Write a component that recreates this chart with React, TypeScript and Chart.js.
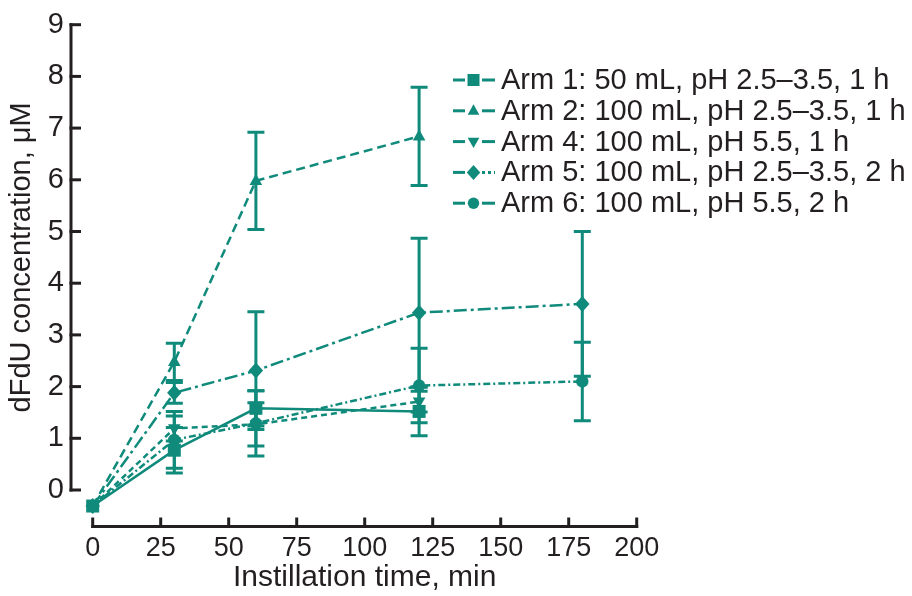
import React, { useEffect, useRef } from 'react';
import { Chart, registerables } from 'chart.js';

Chart.register(...registerables);

// ---- data ----
const timesShort = [0, 30, 60, 120];
const timesLong = [0, 30, 60, 120, 180];

const arm1 = [-0.31, 0.77, 1.58, 1.52];
const arm1Err = [0, 0.44, 0.34, 0.47];
const arm2 = [-0.31, 2.48, 5.98, 6.84];
const arm2Err = [0, 0.36, 0.94, 0.95];
const arm4 = [-0.31, 1.19, 1.27, 1.71];
const arm4Err = [0, 0.24, 0.42, 0.2];
const arm5 = [-0.31, 1.88, 2.31, 3.43, 3.6];
const arm5Err = [0, 0.2, 1.14, 1.44, 1.4];
const arm6 = [-0.31, 0.97, 1.29, 2.02, 2.1];
const arm6Err = [0, 0.55, 0.63, 0.72, 0.76];

const seriesLabels = [
  'Arm 1: 50 mL, pH 2.5\u20133.5, 1 h',
  'Arm 2: 100 mL, pH 2.5\u20133.5, 1 h',
  'Arm 4: 100 mL, pH 5.5, 1 h',
  'Arm 5: 100 mL, pH 2.5\u20133.5, 2 h',
  'Arm 6: 100 mL, pH 5.5, 2 h',
];

const xTickValues = [0, 25, 50, 75, 100, 125, 150, 175, 200];
const yTickValues = [0, 1, 2, 3, 4, 5, 6, 7, 8, 9];

const xTitle = 'Instillation time, min';
const yTitle = 'dFdU concentration, \u03bcM';

// ---- styles ----
const TEAL = '#0f8a7b';
const INK = '#231f20';
const FONT = "'Liberation Sans', Arial, sans-serif";

type Series = {
  label: string;
  times: number[];
  values: number[];
  errs: number[];
  marker: string;
  radius: number;
  dash: number[];
};

const series: Series[] = [
  { label: seriesLabels[0], times: timesShort, values: arm1, errs: arm1Err, marker: 'square', radius: 6.5, dash: [] },
  { label: seriesLabels[1], times: timesShort, values: arm2, errs: arm2Err, marker: 'triangle', radius: 7, dash: [9, 5] },
  { label: seriesLabels[2], times: timesShort, values: arm4, errs: arm4Err, marker: 'triangleDown', radius: 7, dash: [6, 4] },
  { label: seriesLabels[3], times: timesLong, values: arm5, errs: arm5Err, marker: 'diamond', radius: 8, dash: [13, 4, 3, 4] },
  { label: seriesLabels[4], times: timesLong, values: arm6, errs: arm6Err, marker: 'circle', radius: 6.2, dash: [7, 3, 2, 3] },
];

function drawMarker(ctx: CanvasRenderingContext2D, kind: string, x: number, y: number, r: number) {
  ctx.beginPath();
  if (kind === 'square') {
    ctx.rect(x - r, y - r, 2 * r, 2 * r);
  } else if (kind === 'triangle') {
    ctx.moveTo(x, y - r);
    ctx.lineTo(x + r * 0.9, y + r * 0.6);
    ctx.lineTo(x - r * 0.9, y + r * 0.6);
    ctx.closePath();
  } else if (kind === 'triangleDown') {
    ctx.moveTo(x, y + r);
    ctx.lineTo(x + r * 0.9, y - r * 0.6);
    ctx.lineTo(x - r * 0.9, y - r * 0.6);
    ctx.closePath();
  } else if (kind === 'diamond') {
    ctx.moveTo(x, y - r);
    ctx.lineTo(x + r * 0.9, y);
    ctx.lineTo(x, y + r);
    ctx.lineTo(x - r * 0.9, y);
    ctx.closePath();
  } else {
    ctx.arc(x, y, r, 0, Math.PI * 2);
  }
  ctx.fillStyle = TEAL;
  ctx.fill();
}

const Y_AXIS_X = 71;
const X_AXIS_Y = 526.5;

const axesPlugin = {
  id: 'offsetAxes',
  beforeDatasetsDraw(chart: any) {
    const { ctx } = chart;
    const xs = chart.scales.x;
    const ys = chart.scales.y;
    ctx.save();
    ctx.strokeStyle = INK;
    ctx.lineWidth = 3;
    ctx.lineCap = 'butt';
    // y axis
    ctx.beginPath();
    ctx.moveTo(Y_AXIS_X, ys.getPixelForValue(yTickValues[yTickValues.length - 1]) - 1.5);
    ctx.lineTo(Y_AXIS_X, ys.getPixelForValue(yTickValues[0]) + 1.5);
    ctx.stroke();
    yTickValues.forEach((v) => {
      const py = ys.getPixelForValue(v);
      ctx.beginPath();
      ctx.moveTo(Y_AXIS_X - 1.5, py);
      ctx.lineTo(Y_AXIS_X + 10, py);
      ctx.stroke();
    });
    // x axis
    ctx.beginPath();
    ctx.moveTo(xs.getPixelForValue(xTickValues[0]) - 1.5, X_AXIS_Y);
    ctx.lineTo(xs.getPixelForValue(xTickValues[xTickValues.length - 1]) + 1.5, X_AXIS_Y);
    ctx.stroke();
    xTickValues.forEach((v) => {
      const px = xs.getPixelForValue(v);
      ctx.beginPath();
      ctx.moveTo(px, X_AXIS_Y + 1.5);
      ctx.lineTo(px, X_AXIS_Y - 9);
      ctx.stroke();
    });
    ctx.restore();
  },
};

const errorBarPlugin = {
  id: 'errorBars',
  afterDatasetsDraw(chart: any) {
    const { ctx } = chart;
    const xs = chart.scales.x;
    const ys = chart.scales.y;
    ctx.save();
    ctx.strokeStyle = TEAL;
    ctx.lineWidth = 3;
    ctx.setLineDash([]);
    series.forEach((s) => {
      s.times.forEach((t, i) => {
        const e = s.errs[i];
        if (!e) return;
        const px = xs.getPixelForValue(t);
        const top = ys.getPixelForValue(s.values[i] + e);
        const bot = ys.getPixelForValue(s.values[i] - e);
        ctx.beginPath();
        ctx.moveTo(px, top);
        ctx.lineTo(px, bot);
        ctx.moveTo(px - 8.5, top);
        ctx.lineTo(px + 8.5, top);
        ctx.moveTo(px - 8.5, bot);
        ctx.lineTo(px + 8.5, bot);
        ctx.stroke();
      });
    });
    // markers above the bars
    for (let k = series.length - 1; k >= 0; k--) {
      const s = series[k];
      s.times.forEach((t, i) => {
        drawMarker(ctx, s.marker, xs.getPixelForValue(t), ys.getPixelForValue(s.values[i]), s.radius);
      });
    }
    ctx.restore();
  },
};

const legendPlugin = {
  id: 'customLegend',
  afterDraw(chart: any) {
    const { ctx } = chart;
    ctx.save();
    series.forEach((s, i) => {
      const cy = 80 + i * 30.8;
      ctx.strokeStyle = TEAL;
      ctx.lineWidth = 3;
      ctx.setLineDash([]);
      ctx.beginPath();
      ctx.moveTo(453, cy);
      ctx.lineTo(465, cy);
      ctx.stroke();
      if (s.marker === 'diamond') {
        ctx.setLineDash([3, 3]);
      }
      ctx.beginPath();
      ctx.moveTo(482, cy);
      ctx.lineTo(495, cy);
      ctx.stroke();
      ctx.setLineDash([]);
      drawMarker(ctx, s.marker, 473.5, cy, s.radius - 0.5);
      ctx.fillStyle = INK;
      ctx.font = `29px ${FONT}`;
      ctx.textBaseline = 'middle';
      ctx.textAlign = 'left';
      ctx.fillText(s.label, 501, cy + 1);
    });
    ctx.restore();
  },
};

export default function App() {
  const ref = useRef<HTMLCanvasElement | null>(null);

  useEffect(() => {
    if (!ref.current) return;
    const chart = new Chart(ref.current, {
      type: 'line',
      data: {
        datasets: series.map((s) => ({
          label: s.label,
          data: s.times.map((t, i) => ({ x: t, y: s.values[i] })),
          borderColor: TEAL,
          backgroundColor: TEAL,
          borderWidth: 2.5,
          borderDash: s.dash,
          pointRadius: 0,
          fill: false,
          tension: 0,
          clip: false as any,
        })),
      },
      options: {
        animation: false,
        responsive: false,
        devicePixelRatio: 1,
        layout: { padding: { top: 24.7, right: 275.3, bottom: 0, left: 0 } },
        plugins: {
          legend: { display: false },
          tooltip: { enabled: false },
        },
        scales: {
          x: {
            type: 'linear',
            min: 0,
            max: 200,
            grid: { display: false, drawTicks: false },
            border: { display: false },
            afterBuildTicks: (scale: any) => {
              scale.ticks = xTickValues.map((v) => ({ value: v }));
            },
            afterFit: (scale: any) => {
              scale.height = 106;
              scale.paddingLeft = 0;
              scale.paddingRight = 0;
            },
            ticks: {
              color: INK,
              font: { family: FONT, size: 27 },
              padding: 42,
              maxRotation: 0,
              autoSkip: false,
            },
            title: {
              display: true,
              text: xTitle,
              color: INK,
              font: { family: FONT, size: 30 },
              padding: { top: 0, bottom: 0 },
            },
          },
          y: {
            type: 'linear',
            min: 0,
            max: 9,
            grid: { display: false, drawTicks: false },
            border: { display: false },
            afterBuildTicks: (scale: any) => {
              scale.ticks = yTickValues.map((v) => ({ value: v }));
            },
            afterFit: (scale: any) => {
              scale.width = 92.7;
              scale.paddingTop = 0;
              scale.paddingBottom = 0;
            },
            ticks: {
              color: INK,
              font: { family: FONT, size: 29 },
              padding: 28.7,
              autoSkip: false,
            },
            title: {
              display: true,
              text: yTitle,
              color: INK,
              font: { family: FONT, size: 29 },
              padding: { top: 5, bottom: 0 },
            },
          },
        },
      },
      plugins: [axesPlugin, errorBarPlugin, legendPlugin],
    });
    return () => chart.destroy();
  }, []);

  return (
    <div style={{ position: 'fixed', left: 0, top: 0, width: 912, height: 596, background: '#fff' }}>
      <canvas ref={ref} width={912} height={596} style={{ width: 912, height: 596, display: 'block' }} />
    </div>
  );
}
